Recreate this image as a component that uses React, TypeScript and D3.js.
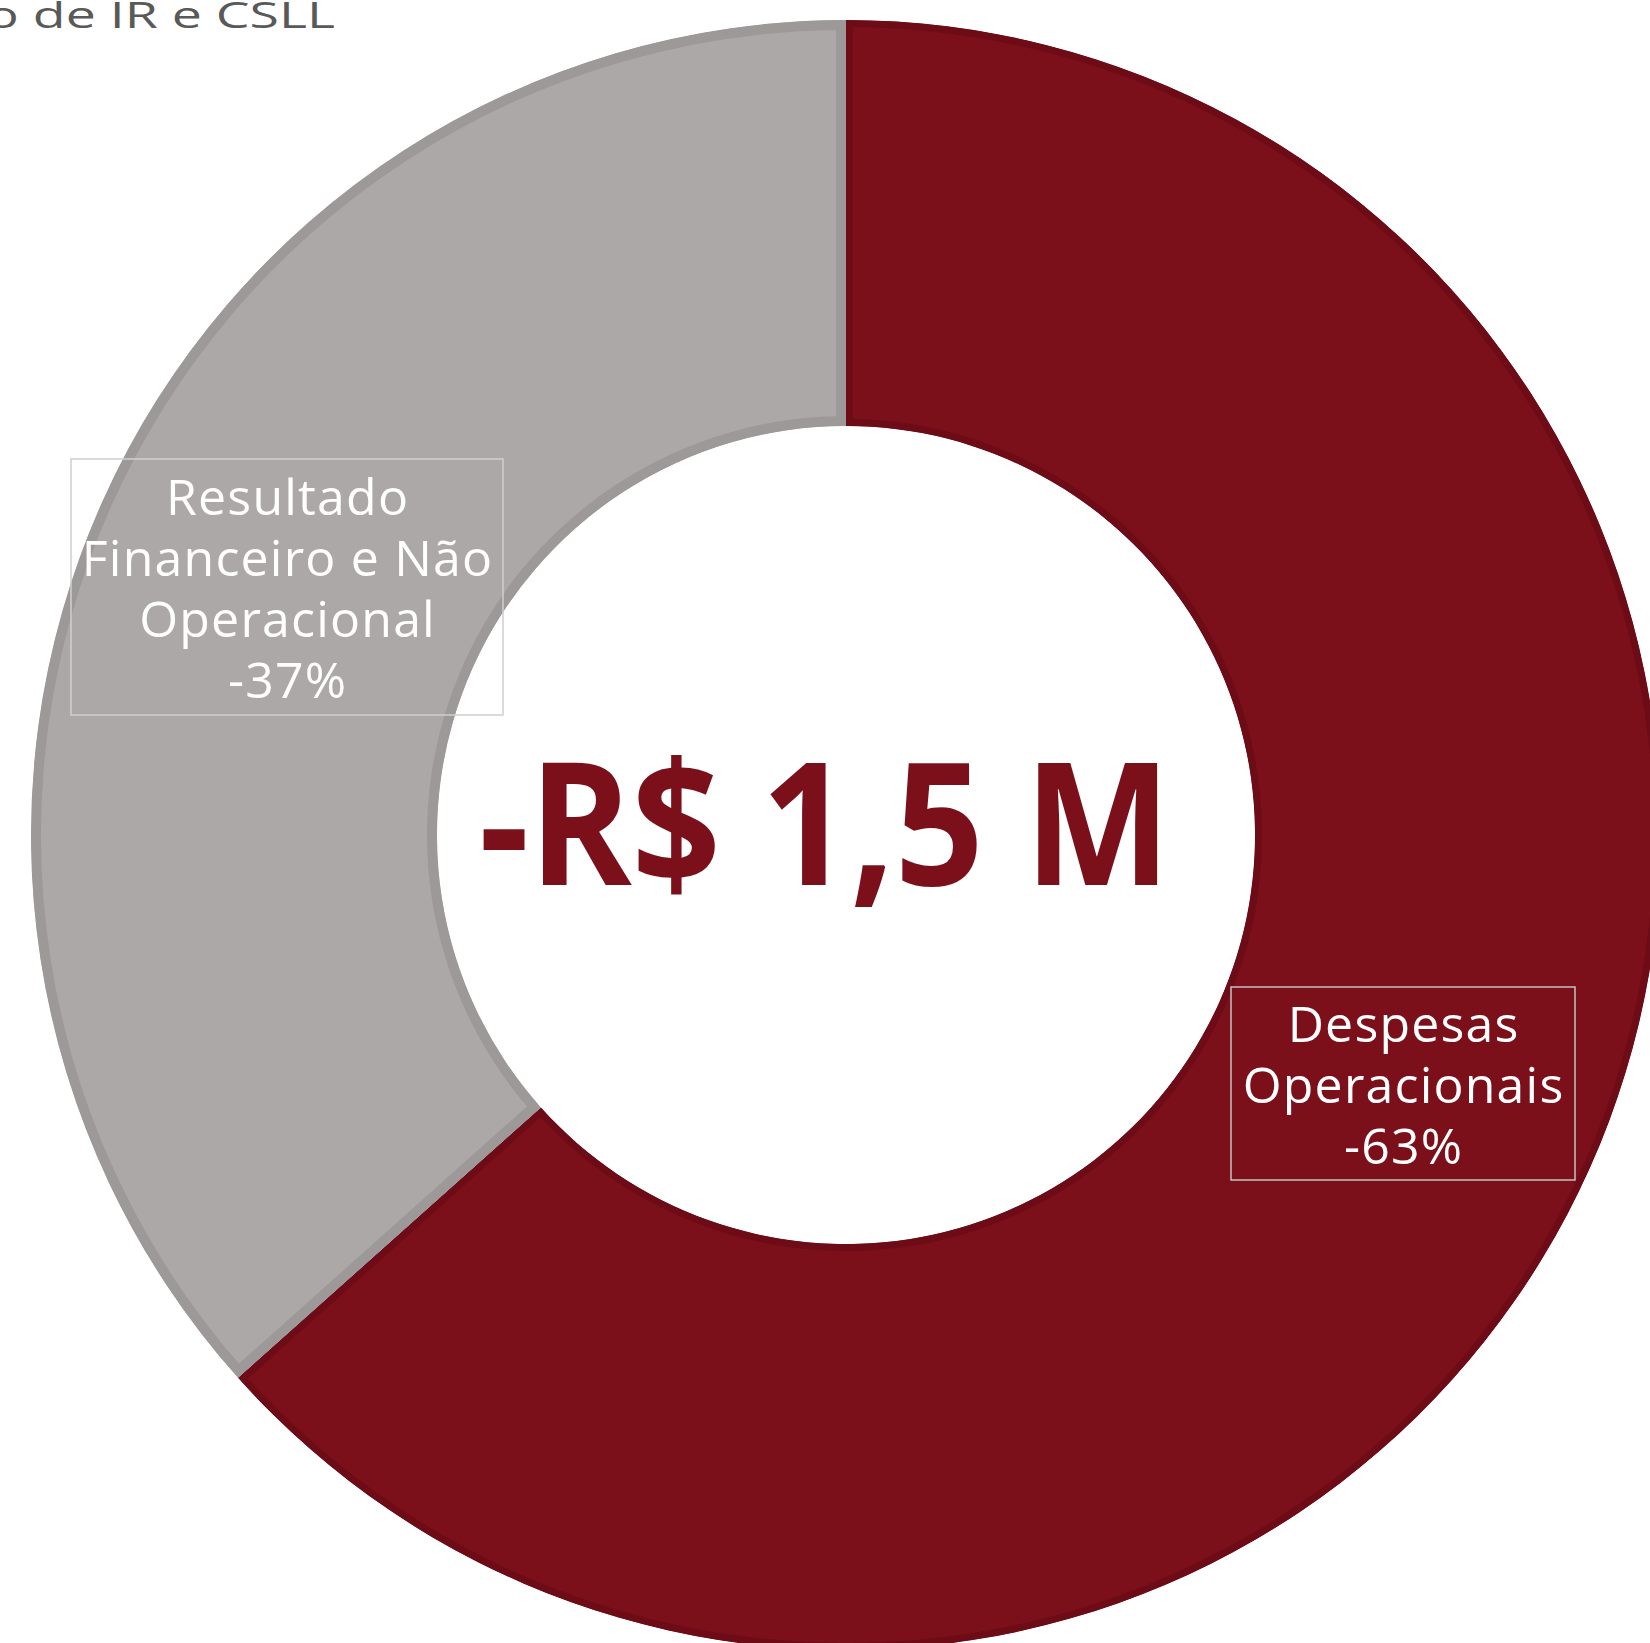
import React from "react";
import * as d3 from "d3";

// ---- data ----
const categories = ["Despesas Operacionais", "Resultado Financeiro e Não Operacional"];
const shares = [63.4, 36.6];
const labelLines = [
  ["Despesas", "Operacionais", "-63%"],
  ["Resultado", "Financeiro e Não", "Operacional", "-37%"],
];
const totalLabel = "-R$ 1,5 M";
const titleText = "Resultado antes da Provisão de IR e CSLL";

// ---- layout / style ----
const W = 1650;
const H = 1643;
const cx = 846;
const cy = 835;
const outerR = 815;
const innerR = 409;
const fills = ["#7b0f1a", "#aca8a7"];
const borders = ["#6d0c16", "#9d9998"];
const borderW = [14, 20];
const boxStroke = ["#c4c4c4", "#cfcfcf"];
const boxes = [
  { x: 1231, y: 987, w: 344, h: 193, cx: 1403, firstBaseline: 1041.5 },
  { x: 71, y: 459, w: 432, h: 256, cx: 287, firstBaseline: 515 },
];
const lineGap = 61;

export default function App() {
  const pie = d3
    .pie<number>()
    .sort(null)
    .value((d) => d)
    .startAngle(0)
    .endAngle(2 * Math.PI);
  const arcs = pie(shares);
  const arc = d3.arc<d3.PieArcDatum<number>>().innerRadius(innerR).outerRadius(outerR);

  return (
    <div style={{ position: "absolute", left: 0, top: 0, width: W, height: H, overflow: "hidden", background: "#fff" }}>
      <svg width={W} height={H} viewBox={`0 0 ${W} ${H}`} style={{ display: "block" }}>
        <defs>
          {arcs.map((a, i) => (
            <clipPath id={`clip-${i}`} key={i}>
              <path d={arc(a) || ""} transform={`translate(${cx},${cy})`} />
            </clipPath>
          ))}
        </defs>
        <g transform="translate(335,28) scale(1.45,1)">
          <text
            x={0}
            y={0}
            textAnchor="end"
            fontFamily="'Open Sans', sans-serif"
            fontSize={37}
            fill="#595959"
          >
            {titleText}
          </text>
        </g>
        {arcs.map((a, i) => (
          <g key={categories[i]} clipPath={`url(#clip-${i})`}>
            <path
              d={arc(a) || ""}
              transform={`translate(${cx},${cy})`}
              fill={fills[i]}
              stroke={borders[i]}
              strokeWidth={borderW[i]}
            />
          </g>
        ))}
        <text
          x={cx - 21}
          y={885}
          textAnchor="middle"
          fontFamily="'Open Sans', sans-serif"
          fontWeight={700}
          fontSize={170}
          fill="#7b0f1a"
          textLength={692}
          lengthAdjust="spacingAndGlyphs"
        >
          {totalLabel}
        </text>
        {boxes.map((b, i) => (
          <g key={`lab-${i}`}>
            <rect x={b.x} y={b.y} width={b.w} height={b.h} fill="none" stroke={boxStroke[i]} strokeWidth={1.5} />
            {labelLines[i].map((t, j) => (
              <text
                key={j}
                x={b.cx + 0.6}
                y={b.firstBaseline + j * lineGap}
                textAnchor="middle"
                fontFamily="'Open Sans', sans-serif"
                fontSize={50}
                letterSpacing={1.2}
                fill="#ffffff"
              >
                {t}
              </text>
            ))}
          </g>
        ))}
      </svg>
    </div>
  );
}
